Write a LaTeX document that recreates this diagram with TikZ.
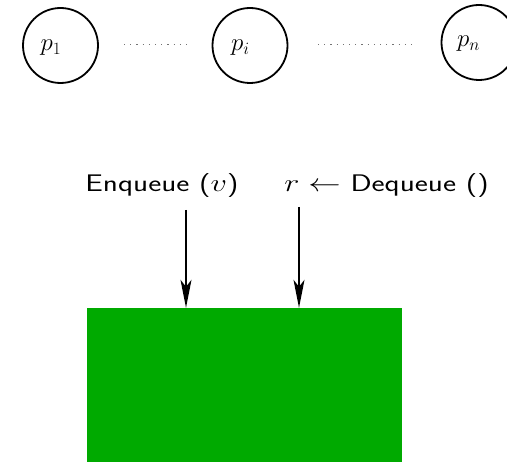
\documentclass[tikz,border=0pt]{standalone}
\usetikzlibrary{arrows.meta}
\definecolor{queuegreen}{RGB}{0,170,0}
\tikzset{
  proc/.style={circle, draw=black, line width=1.8pt, minimum size=75pt, inner sep=0pt},
  plabel/.style={font=\fontsize{26}{30}\selectfont, anchor=base west, inner sep=0pt},
  gap/.style={black!55, line width=1.1pt, dash pattern=on 1.2pt off 5pt},
  optext/.style={font=\fontsize{24}{28}\selectfont\sffamily, anchor=base, inner sep=0pt},
  call/.style={line width=1.4pt, -{Stealth[length=28pt, width=11pt, inset=7pt]}},
  queue/.style={fill=queuegreen, draw=none, minimum width=315pt, minimum height=154pt, inner sep=0pt}
}
% operation labels are set horizontally widened
\newcommand{\widetext}[1]{\scalebox{1.3}[1]{#1}}
\begin{document}
\begin{tikzpicture}[x=1pt, y=-1pt]
  \useasboundingbox (0,0) rectangle (507,462);
  % processes
  \node[proc] (p1) at (60.5,45.5) {};
  \node[proc] (pi) at (250,45.5) {};
  \node[proc] (pn) at (479,42.5) {};
  \node[plabel] (l1) at (40.5,51) {$p_1$};
  \node[plabel] (li) at (231,51) {$p_i$};
  \node[plabel] (ln) at (457,47) {$p_n$};
  % dots between processes
  \coordinate (d1a) at (124,44.5);
  \coordinate (d1b) at (191,44.5);
  \coordinate (d2a) at (318,44.5);
  \coordinate (d2b) at (416,44.5);
  \draw[gap] (d1a) -- (d1b);
  \draw[gap] (d2a) -- (d2b);
  % operations
  \node[optext] (enq) at (162,192) {\widetext{Enqueue ($v$)}};
  \node[optext] (deq) at (386.5,192) {\widetext{$r\leftarrow$ Dequeue ()}};
  % shared queue
  \node[queue] (q) at (244.5,385) {};
  \coordinate (enqsrc) at (186,210);
  \coordinate (deqsrc) at (299,207);
  \draw[call] (enqsrc) -- (enqsrc |- q.north);
  \draw[call] (deqsrc) -- (deqsrc |- q.north);
\end{tikzpicture}
\end{document}
